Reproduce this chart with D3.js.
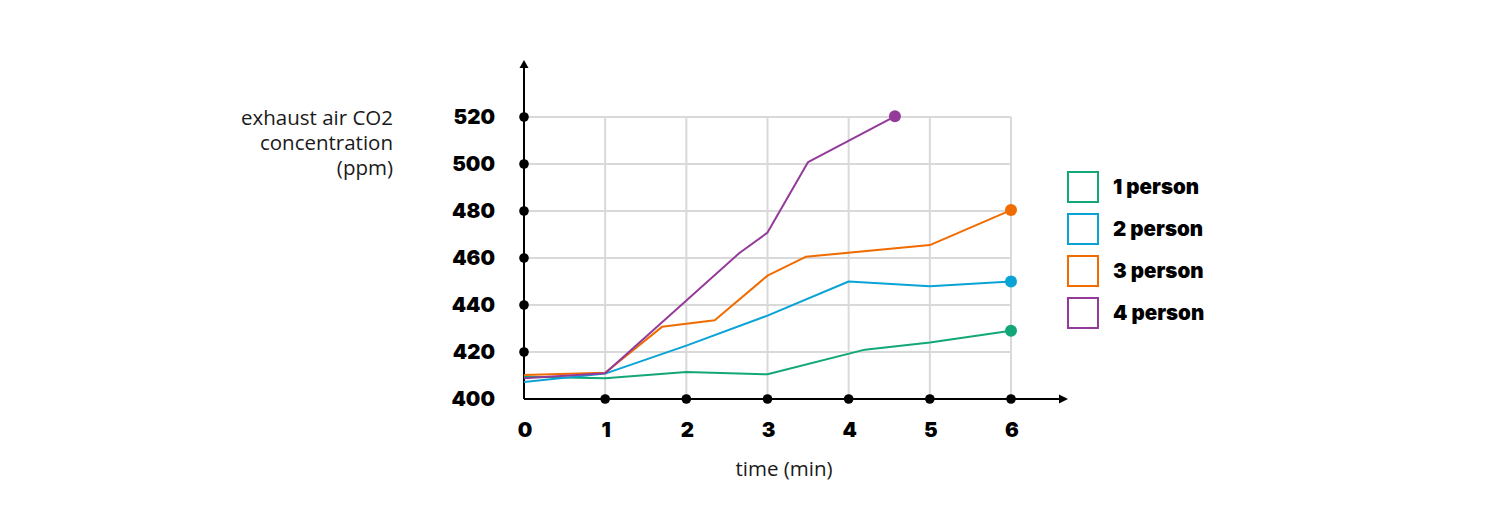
<!DOCTYPE html>
<html><head><meta charset="utf-8">
<script src="https://cdn.jsdelivr.net/npm/d3@7"></script>
<style>
body{margin:0;background:#fff;}
svg{display:block;}
.tick-label{font-family:Inter, "Noto Sans", sans-serif;font-weight:900;fill:#000;}
.title{font-family:"Open Sans", sans-serif;font-size:20.5px;fill:#1a1a1a;}
</style></head>
<body>
<svg id="chart" width="1508" height="520"></svg>
<script>
const xTicks = [0, 1, 2, 3, 4, 5, 6];
const yTicks = [400, 420, 440, 460, 480, 500, 520];
const seriesNames = ["1 person", "2 person", "3 person", "4 person"];
const seriesColors = ["#13a678", "#0aa3d6", "#f06c00", "#933a9a"];
const series1 = [[0, 409.5], [1, 408.8], [2, 411.5], [3, 410.5], [4.2, 421.0], [5, 424.0], [6, 429.0]];
const series2 = [[0, 407.2], [1, 410.8], [2, 422.7], [3, 435.5], [4, 450.0], [5, 448.0], [6, 450.0]];
const series3 = [[0, 410.2], [1, 411.2], [1.7, 430.7], [2.35, 433.5], [3, 452.5], [3.47, 460.5], [5, 465.5], [6, 480.4]];
const series4 = [[0, 408.8], [1, 411.0], [2.65, 462.0], [3, 470.8], [3.5, 500.8], [4.57, 520.3]];
const allSeries = [series1, series2, series3, series4];

const svg = d3.select("#chart");
const x = d3.scaleLinear().domain([0, 6]).range([524, 1011]);
const y = d3.scaleLinear().domain([400, 520]).range([399, 117]);

// grid
svg.append("g").selectAll("line").data(xTicks.slice(1)).join("line")
  .attr("x1", d => x(d)).attr("x2", d => x(d)).attr("y1", y(400)).attr("y2", y(520))
  .attr("stroke", "#d9d9d9").attr("stroke-width", 2);
svg.append("g").selectAll("line").data(yTicks.slice(1)).join("line")
  .attr("x1", x(0)).attr("x2", x(6)).attr("y1", d => y(d)).attr("y2", d => y(d))
  .attr("stroke", "#d9d9d9").attr("stroke-width", 2);

// axes
svg.append("line").attr("x1", x(0)).attr("x2", x(0)).attr("y1", y(400)).attr("y2", 64)
  .attr("stroke", "#000").attr("stroke-width", 2);
svg.append("path").attr("d", `M${x(0)},60 L${x(0)-4.5},68 L${x(0)+4.5},68 Z`).attr("fill", "#000");
svg.append("line").attr("x1", x(0)).attr("x2", 1064).attr("y1", y(400)).attr("y2", y(400))
  .attr("stroke", "#000").attr("stroke-width", 2);
svg.append("path").attr("d", `M1068,${y(400)} L1059,${y(400)-4.5} L1059,${y(400)+4.5} Z`).attr("fill", "#000");

// lines
const line = d3.line().x(d => x(d[0])).y(d => y(d[1]));
svg.append("g").selectAll("path").data(allSeries).join("path")
  .attr("d", line).attr("fill", "none")
  .attr("stroke", (d, i) => seriesColors[i]).attr("stroke-width", 2).attr("stroke-linejoin", "round");
svg.append("g").selectAll("circle").data(allSeries).join("circle")
  .attr("cx", d => x(d[d.length - 1][0])).attr("cy", d => y(d[d.length - 1][1]))
  .attr("r", 6).attr("fill", (d, i) => seriesColors[i]);

// tick dots
svg.append("g").selectAll("circle").data(yTicks.slice(1)).join("circle")
  .attr("cx", x(0)).attr("cy", d => y(d)).attr("r", 4.8).attr("fill", "#000");
svg.append("g").selectAll("circle").data(xTicks.slice(1)).join("circle")
  .attr("cx", d => x(d)).attr("cy", y(400)).attr("r", 4.8).attr("fill", "#000");

// tick labels
svg.append("g").selectAll("text").data(yTicks).join("text")
  .attr("class", "tick-label").attr("x", 495).attr("y", d => y(d)).attr("dy", "0.36em")
  .attr("text-anchor", "end").style("font-size", "20.5px").text(d => d);
svg.append("g").selectAll("text").data(xTicks).join("text")
  .attr("class", "tick-label").attr("x", d => x(d) + 1).attr("y", 430).attr("dy", "0.36em")
  .attr("text-anchor", "middle").style("font-size", "20.5px").text(d => d);

// titles
const yt = svg.append("text").attr("class", "title").attr("text-anchor", "end");
["exhaust air CO2", "concentration", "(ppm)"].forEach((t, i) =>
  yt.append("tspan").attr("x", 393).attr("y", 125 + i * 25).text(t));
svg.append("text").attr("class", "title").attr("x", 784).attr("y", 476)
  .attr("text-anchor", "middle").text("time (min)");

// legend
const lg = svg.append("g").selectAll("g").data(seriesNames).join("g")
  .attr("transform", (d, i) => `translate(1068,${172 + i * 42})`);
lg.append("rect").attr("width", 30).attr("height", 30).attr("fill", "#fff")
  .attr("stroke", (d, i) => seriesColors[i]).attr("stroke-width", 2);
lg.append("text").attr("class", "tick-label").attr("x", 45).attr("y", 15).attr("dy", "0.36em")
  .style("font-size", "20.5px").text(d => d);
</script>
</body></html>
